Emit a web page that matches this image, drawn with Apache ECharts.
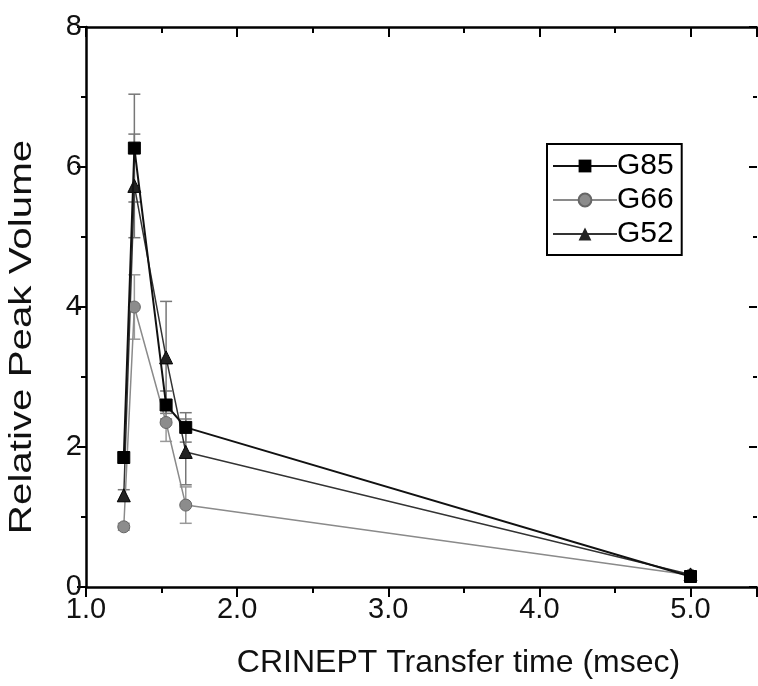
<!DOCTYPE html>
<html>
<head>
<meta charset="utf-8">
<script src="https://cdn.jsdelivr.net/npm/echarts@6/dist/echarts.min.js"></script>
<style>
  html, body { margin: 0; padding: 0; background: #fff; }
  #main { width: 758px; height: 686px; }
</style>
</head>
<body>
<div id="main"></div>
<script>
// transfer times (msec)
var xValues = [1.25, 1.32, 1.53, 1.66, 5.0];
// relative peak volume per group
var g85 = [1.85, 6.27, 2.60, 2.28, 0.15];
var g66 = [0.86, 4.00, 2.35, 1.17, 0.17];
var g52 = [1.31, 5.73, 3.28, 1.93, 0.18];
// error bar half-widths
var g85Err = [0.08, 0.77, 0.20, 0.21, 0.02];
var g66Err = [0.05, 0.46, 0.27, 0.26, 0.02];
var g52Err = [0.08, 0.74, 0.80, 0.47, 0.02];

var FONT = "Liberation Sans";

function pairs(vals){
	return xValues.map(function(x, i){ return [x, vals[i]]; });
}
function errData(vals, errs){
	return xValues.map(function(x, i){ return [x, vals[i] - errs[i], vals[i] + errs[i]]; });
}
//误差线（自定义系列）
function errSeries(name, vals, errs, color){
	return {
		name: name,
		type: 'custom',
		z: 1,
		data: errData(vals, errs),
		renderItem: function(params, api){
			var lo = api.coord([api.value(0), api.value(1)]);
			var hi = api.coord([api.value(0), api.value(2)]);
			var w = 6;
			var st = { stroke: color, lineWidth: 1.5 };
			return {
				type: 'group',
				children: [
					{ type: 'line', shape: { x1: lo[0], y1: lo[1], x2: hi[0], y2: hi[1] }, style: st },
					{ type: 'line', shape: { x1: lo[0] - w, y1: lo[1], x2: lo[0] + w, y2: lo[1] }, style: st },
					{ type: 'line', shape: { x1: hi[0] - w, y1: hi[1], x2: hi[0] + w, y2: hi[1] }, style: st }
				]
			};
		}
	};
}

var chart = echarts.init(document.getElementById('main'));

var axisLine = { show: true, onZero: false, lineStyle: { color: '#000', width: 2.5 } };

var option = {
	animation: false,
	backgroundColor: '#fff',
	grid: { left: 86, right: 1, top: 27, bottom: 99, outerBoundsMode: 'none', containLabel: false },
	legend: {
		left: 547,
		top: 144,
		orient: 'vertical',
		data: ['G85', 'G66', 'G52'],
		itemWidth: 64,
		itemHeight: 16,
		itemGap: 4,
		padding: [7, 8, 6, 5],
		borderColor: '#000',
		borderWidth: 2,
		textStyle: { fontFamily: FONT, fontSize: 30, color: '#000', padding: [0, 0, 0, -5] }
	},
	graphic: [{
		type: 'text',
		x: 22, y: 337,
		rotation: Math.PI / 2,
		scaleX: 1.3,
		style: {
			text: 'Relative Peak Volume',
			font: '31px "Liberation Sans"',
			fill: '#111',
			align: 'center',
			verticalAlign: 'middle'
		}
	}],
	xAxis: [{
		type: 'value',
		min: 1, max: 5.44, interval: 1,
		axisLine: axisLine,
		axisTick: { show: true, inside: false, length: 10, lineStyle: { color: '#000', width: 2 } },
		minorTick: { show: true, splitNumber: 2, length: 6, lineStyle: { color: '#000', width: 2 } },
		splitLine: { show: false },
		axisLabel: { fontFamily: FONT, fontSize: 29, color: '#111', margin: 8, showMaxLabel: false,
			formatter: function(v){ return v.toFixed(1); } },
		name: 'CRINEPT Transfer time (msec)',
		nameLocation: 'middle',
		nameGap: 60,
		nameTextStyle: { fontFamily: FONT, fontSize: 32, color: '#111', padding: [0, 0, 0, 74] }
	}, {
		type: 'value',
		position: 'top',
		min: 1, max: 5.44, interval: 1,
		axisLine: axisLine,
		axisTick: { show: true, inside: true, length: 10, lineStyle: { color: '#000', width: 2 } },
		minorTick: { show: true, splitNumber: 2, length: 6, lineStyle: { color: '#000', width: 2 } },
		splitLine: { show: false },
		axisLabel: { show: false }
	}],
	yAxis: [{
		type: 'value',
		min: 0, max: 8, interval: 2,
		axisLine: axisLine,
		axisTick: { show: true, inside: false, length: 9, lineStyle: { color: '#000', width: 2 } },
		minorTick: { show: true, splitNumber: 2, length: 5, lineStyle: { color: '#000', width: 2 } },
		splitLine: { show: false },
		axisLabel: { fontFamily: FONT, fontSize: 29, color: '#111', margin: 4 }
	}, {
		type: 'value',
		position: 'right',
		min: 0, max: 8, interval: 2,
		axisLine: { show: false },
		axisTick: { show: true, inside: true, length: 8, lineStyle: { color: '#000', width: 2 } },
		minorTick: { show: true, splitNumber: 2, length: 4, lineStyle: { color: '#000', width: 2 } },
		splitLine: { show: false },
		axisLabel: { show: false }
	}],
	series: [
		errSeries('G85 err', g85, g85Err, '#777'),
		errSeries('G66 err', g66, g66Err, '#999'),
		errSeries('G52 err', g52, g52Err, '#777'),
		{
			name: 'G85', type: 'line', data: pairs(g85), z: 4,
			symbol: 'rect', symbolSize: 12,
			lineStyle: { color: '#111', width: 2 },
			itemStyle: { color: '#000', borderColor: '#000' }
		},
		{
			name: 'G66', type: 'line', data: pairs(g66), z: 3,
			symbol: 'circle', symbolSize: 12,
			lineStyle: { color: '#8a8a8a', width: 1.5 },
			itemStyle: { color: '#8c8c8c', borderColor: '#666', borderWidth: 1 }
		},
		{
			name: 'G52', type: 'line', data: pairs(g52), z: 3,
			symbol: 'triangle', symbolSize: 13,
			lineStyle: { color: '#333', width: 1.5 },
			itemStyle: { color: '#222', borderColor: '#000' }
		}
	]
};

chart.setOption(option);
</script>
</body>
</html>
